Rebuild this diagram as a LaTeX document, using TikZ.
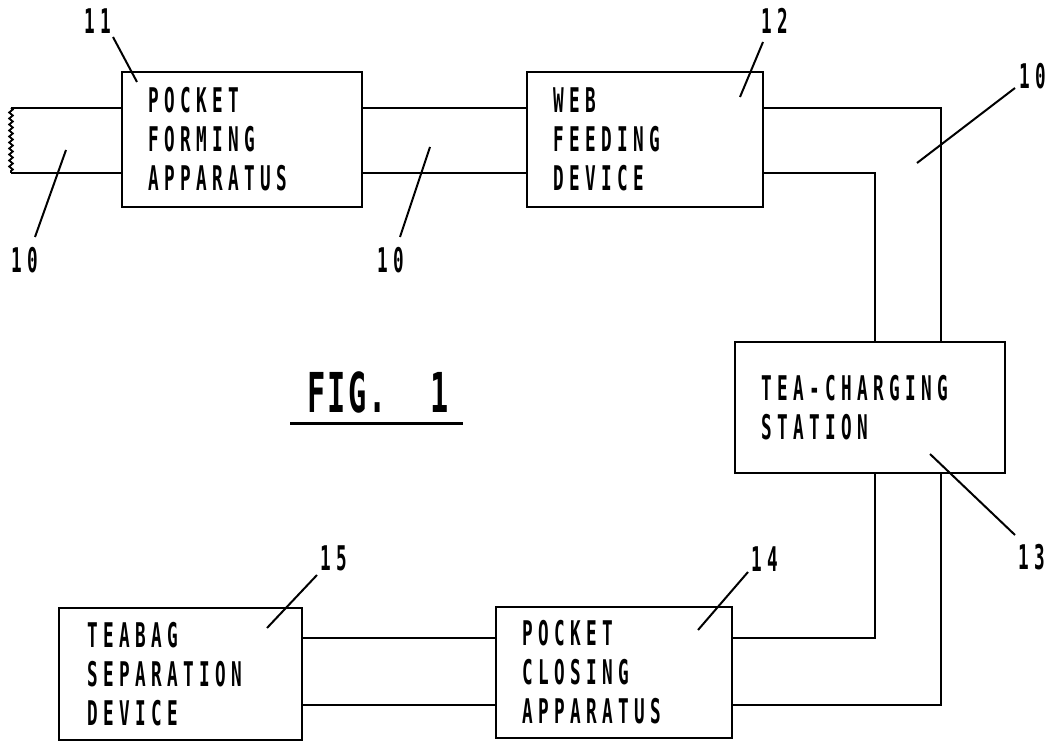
\documentclass[tikz,border=0pt]{standalone}
\usepackage{fontspec}
\newfontfamily\patfont{DejaVu Sans Mono}[FakeStretch=0.52,LetterSpace=16]
\newfontfamily\figfont{DejaVu Sans Mono}[FakeStretch=0.55,LetterSpace=4]
\usetikzlibrary{decorations.pathmorphing}
\begin{document}
\begin{tikzpicture}[x=1pt,y=-1pt,
  box/.style={draw, line width=2.5pt, rectangle, inner xsep=26pt, inner ysep=0pt,
    align=left, outer sep=0pt,
    font=\patfont\bfseries\fontsize{34}{39}\selectfont},
  web/.style={line width=2.5pt},
  lead/.style={line width=2pt},
  num/.style={font=\patfont\bfseries\fontsize{34}{39}\selectfont, inner sep=0pt}]
\useasboundingbox (0,0) rectangle (1052,743);

% boxes
\node[box, minimum width=240pt, minimum height=135pt, text width=188pt] (b11) at (242,139.5)
  {POCKET\\FORMING\\APPARATUS};
\node[box, minimum width=236pt, minimum height=135pt, text width=184pt] (b12) at (645,139.5)
  {WEB\\FEEDING\\DEVICE};
\node[box, minimum width=270pt, minimum height=131pt, text width=218pt] (b13) at (870,407.5)
  {TEA-CHARGING\\STATION};
\node[box, minimum width=236pt, minimum height=131pt, text width=184pt] (b14) at (614,672.5)
  {POCKET\\CLOSING\\APPARATUS};
\node[box, minimum width=239pt, minimum height=132pt, text width=187pt, inner xsep=28pt] (b15) at (180.5,674)
  {TEABAG\\SEPARATION\\DEVICE};

% web levels
\coordinate (L1) at (11,108);
\coordinate (L2) at (11,173);
\coordinate (xi) at (875,0);
\coordinate (xo) at (941,0);
\coordinate (Y1) at (0,638);
\coordinate (Y2) at (0,705);

% web strip
\draw[web] (L1) -- (L1 -| b11.west);
\draw[web] (L2) -- (L2 -| b11.west);
\draw[line width=1.8pt, decorate, decoration={zigzag, amplitude=1.8pt, segment length=6pt}] (L1) -- (L2);
\draw[web] (b11.east |- L1) -- (b12.west |- L1);
\draw[web] (b11.east |- L2) -- (b12.west |- L2);
\draw[web] (b12.east |- L1) -| (b13.north -| xo);
\draw[web] (b12.east |- L2) -| (b13.north -| xi);
\draw[web] (b13.south -| xi) |- (b14.east |- Y1);
\draw[web] (b13.south -| xo) |- (b14.east |- Y2);
\draw[web] (b15.east |- Y1) -- (b14.west |- Y1);
\draw[web] (b15.east |- Y2) -- (b14.west |- Y2);

% reference numerals
\node[num] (n11) at (98,21) {11};
\node[num] (n10a) at (25,260) {10};
\node[num] (n10b) at (391,260) {10};
\node[num] (n12) at (775,21) {12};
\node[num] (n10c) at (1033,76) {10};
\node[num] (n13) at (1032,557) {13};
\node[num] (n14) at (765,559) {14};
\node[num] (n15) at (334,558) {15};

\coordinate (s11) at (113,37);   \coordinate (e11) at (137,82);
\coordinate (s10a) at (35,237);  \coordinate (e10a) at (66,150);
\coordinate (s10b) at (400,237); \coordinate (e10b) at (430,147);
\coordinate (s12) at (763,42);   \coordinate (e12) at (740,97);
\coordinate (s10c) at (1015,88); \coordinate (e10c) at (917,163);
\coordinate (s13) at (1015,535); \coordinate (e13) at (930,454);
\coordinate (s14) at (748,572);  \coordinate (e14) at (698,630);
\coordinate (s15) at (317,575);  \coordinate (e15) at (267,628);
\foreach \n in {11,10a,10b,12,10c,13,14,15} \draw[lead] (s\n) -- (e\n);

% figure caption
\node[font=\figfont\bfseries\fontsize{55}{60}\selectfont, inner sep=0pt, anchor=base west] (fig) at (307,412)
  {FIG.\hspace{44pt}1};
\coordinate (u1) at (290,423);
\coordinate (u2) at (463,423);
\draw[line width=3pt] (u1) -- (u2);
\end{tikzpicture}
\end{document}
